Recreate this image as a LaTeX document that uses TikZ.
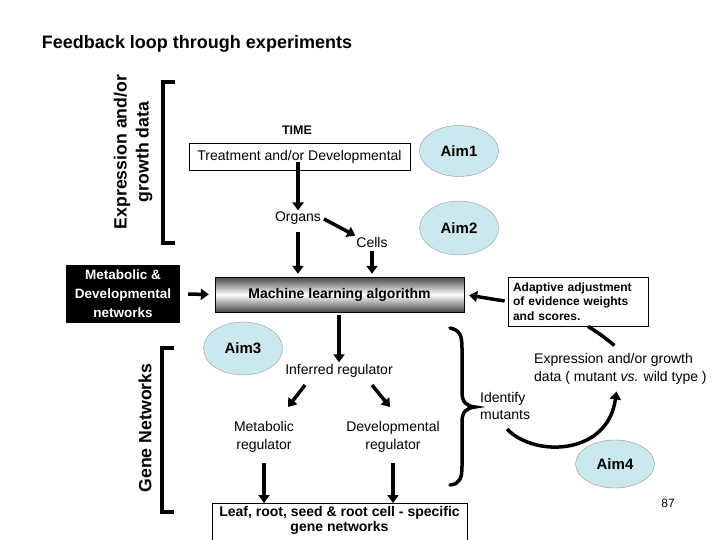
\documentclass[tikz,border=0pt]{standalone}
\usepackage{fontspec}
\setmainfont{Liberation Sans}
\usetikzlibrary{arrows.meta, shapes.geometric}

\definecolor{aimblue}{RGB}{202,232,237}

\begin{document}
\begin{tikzpicture}[
    x=1pt, y=-1pt,
    % Define styles for reusable components
    aim/.style={draw=gray!80, fill=aimblue, ellipse, inner sep=0pt,
        minimum width=79pt, minimum height=51pt, font=\fontsize{15}{18}\selectfont\bfseries},
    plain/.style={font=\fontsize{14}{17.5}\selectfont, inner sep=1pt},
    sidelabel/.style={rotate=90, align=center, font=\fontsize{17.7}{22}\selectfont\bfseries},
    flow/.style={line width=3.5pt, -{Triangle[length=8pt,width=11pt]}},
    thickline/.style={line width=3.5pt}
]
    \useasboundingbox (0,0) rectangle (720,540);
    \clip (0,0) rectangle (720,540);

    % --- TITLE ---
    \node[font=\fontsize{18}{21}\selectfont\bfseries] (title) at (197,44) {Feedback loop through experiments};

    % --- EXPRESSION DATA BRACKET ---
    \node[sidelabel] (exprlbl) at (133,152) {Expression and/or\\growth data};
    \draw[thickline] (175,82) -- (163,82) -- (163,243) -- (175,243);

    % --- TIME AND SAMPLES ---
    \node[font=\fontsize{12.5}{15}\selectfont\bfseries] (time) at (297,130) {TIME};
    \node[draw, plain, minimum width=221pt, minimum height=27pt, inner sep=0pt] (treat) at (299.5,156.5) {Treatment and/or Developmental};
    \node[aim] (aim1) at (459,151) {Aim1};
    \node[plain] (organs) at (298,218) {Organs};
    \node[plain] (cells) at (372,242) {Cells};
    \node[aim, minimum height=54pt] (aim2) at (459,228) {Aim2};

    % --- LEARNING ---
    \node[fill=black, text=white, align=center, minimum width=114pt, minimum height=58pt, inner sep=0pt,
        font=\fontsize{13.5}{19}\selectfont\bfseries] (metab) at (123,294) {Metabolic \&\\Developmental\\networks};
    \node[draw, top color=black!72, bottom color=black!72, middle color=white,
        minimum width=249pt, minimum height=35pt, inner sep=0pt,
        font=\fontsize{14}{16}\selectfont\bfseries] (ml) at (339.5,294.5) {Machine learning algorithm};
    \node[draw, thick, align=left, text width=130pt, minimum width=140pt, minimum height=49pt, inner sep=0pt,
        font=\fontsize{12}{14.5}\selectfont\bfseries] (adapt) at (578,301.5) {Adaptive adjustment\\of evidence weights\\and scores.};

    % --- REGULATORS ---
    \node[aim, minimum height=53pt] (aim3) at (243,348.5) {Aim3};
    \node[plain] (inferred) at (339,371) {Inferred regulator};
    \node[plain, align=center] (metreg) at (264,437) {Metabolic\\regulator};
    \node[plain, align=center] (devreg) at (393,437) {Developmental\\regulator};
    \node[draw, thick, anchor=north, align=center, minimum width=255pt, inner sep=2.5pt, text depth=20pt,
        font=\fontsize{14}{15}\selectfont\bfseries] (leaf) at (339.5,503) {Leaf, root, seed \& root cell - specific\\gene networks};

    % --- GENE NETWORKS BRACKET ---
    \node[sidelabel] (genelbl) at (145,428) {Gene Networks};
    \draw[thickline] (174,348) -- (162,348) -- (162,512) -- (174,512);

    % --- MUTANTS FEEDBACK ---
    \draw[thickline, line cap=round] (450,328) .. controls (460,330) and (462,336) .. (462,348)
        -- (462,392) .. controls (462,402) and (466,406) .. (475,407)
        .. controls (466,408) and (462,412) .. (462,422)
        -- (462,466) .. controls (462,478) and (460,484) .. (450,485);
    \node[plain, anchor=west, align=left] (identify) at (479,406) {Identify\\mutants};
    \node[plain, anchor=west, align=left] (exprmut) at (533,369) {Expression and/or growth\\data ( mutant \textit{vs.} wild type )};
    \node[aim, minimum height=48pt] (aim4) at (615,464) {Aim4};
    \node[font=\fontsize{12}{14}\selectfont] (pnum) at (668,503) {87};

    % --- CONNECTORS ---
    \draw[flow] (treat.south -| organs) ++(0,-8) -- (organs.north);
    \draw[flow, shorten <=2pt] (organs.east) -- (cells.north west);
    \draw[flow, shorten <=6pt, shorten >=3pt] (organs.south) -- (organs.south |- ml.north);
    \draw[flow, shorten <=3pt, shorten >=3pt] (cells.south) -- (cells.south |- ml.north);
    \draw[flow, shorten <=8pt, shorten >=6pt] (metab.east) -- (ml.west);
    \draw[flow, shorten <=3pt, shorten >=5pt] (adapt.west) -- (ml.east);
    \draw[flow, shorten <=3pt, shorten >=1pt] (ml.south -| inferred) -- (inferred.north);
    \draw[flow] ([shift={(-34,14)}]inferred.center) -- ([shift={(24,-30)}]metreg.center);
    \draw[flow] ([shift={(33,14)}]inferred.center) -- ([shift={(-3,-30)}]devreg.center);
    \draw[flow, shorten <=10pt, shorten >=0pt] (metreg.south) -- (metreg.south |- leaf.north);
    \draw[flow, shorten <=10pt, shorten >=0pt] (devreg.south) -- (devreg.south |- leaf.north);
    \draw[thickline] (adapt.south -| exprmut.north) ++(-6,19) .. controls (600,334) .. ([xshift=10pt]adapt.south);
    \draw[flow] ([xshift=2pt,yshift=-8pt]identify.south) .. controls (535,458) and (608,455) .. ([xshift=-4pt,yshift=-6pt]exprmut.south);

\end{tikzpicture}
\end{document}
